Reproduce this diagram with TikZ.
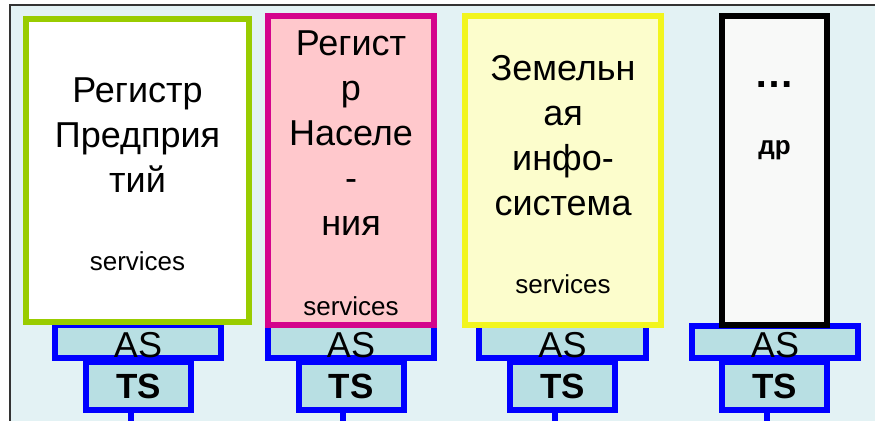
\documentclass[tikz,border=0pt]{standalone}
\usepackage{fontspec}
\setmainfont{Liberation Sans}
\definecolor{bgc}{HTML}{E3F2F4}
\definecolor{grn}{HTML}{99CC00}
\definecolor{mag}{HTML}{D4048C}
\definecolor{pnk}{HTML}{FFC8CC}
\definecolor{ylw}{HTML}{F2F51E}
\definecolor{ylf}{HTML}{FCFDCC}
\definecolor{gry}{HTML}{F8F9F8}
\definecolor{asf}{HTML}{B8DFE3}
\definecolor{blu}{HTML}{0000FF}
\definecolor{frm}{HTML}{333333}
\begin{document}
\begin{tikzpicture}[x=1pt,y=-1pt,
  regbox/.style={draw,line width=6pt,rectangle,inner sep=0pt},
  asbox/.style={regbox,draw=blu,fill=asf,minimum width=166pt,minimum height=33pt},
  tsbox/.style={regbox,draw=blu,fill=asf,minimum width=105pt,minimum height=48pt},
  stem/.style={draw=blu,line width=6pt},
  big/.style={anchor=base,inner sep=0pt,font=\fontsize{36}{45}\selectfont},
  small/.style={anchor=base,inner sep=0pt,font=\fontsize{26}{30}\selectfont},
  astext/.style={anchor=base,inner sep=0pt,font=\fontsize{36}{40}\selectfont},
  tstext/.style={anchor=base,inner sep=0pt,font=\fontsize{35}{40}\selectfont\bfseries}]
\useasboundingbox (0,0) rectangle (875,421);
% background and frame
\fill[bgc] (10,5) rectangle (875,421);
\draw[frm,line width=2pt] (875,5) -- (10,5) -- (10,421);
% AS boxes
\node[asbox] (as1) at (138,341.5) {};
\node[asbox] (as2) at (351,341.5) {};
\node[asbox,minimum width=167pt] (as3) at (562.5,341.5) {};
\node[asbox,minimum height=32pt] (as4) at (775,342) {};
% TS boxes
\node[tsbox] (ts1) at (138.5,386) {};
\node[tsbox] (ts2) at (351,386) {};
\node[tsbox] (ts3) at (562.5,386) {};
\node[tsbox] (ts4) at (774.5,386) {};
% stems
\coordinate (s1) at (131,421);
\coordinate (s2) at (343,421);
\coordinate (s3) at (555,421);
\coordinate (s4) at (767,421);
\draw[stem] (ts1.center |- ts1.south) ++(-7.5,-3) -- (s1);
\draw[stem] (ts2.center |- ts2.south) ++(-8,-3) -- (s2);
\draw[stem] (ts3.center |- ts3.south) ++(-7.5,-3) -- (s3);
\draw[stem] (ts4.center |- ts4.south) ++(-7.5,-3) -- (s4);
% main boxes
\node[regbox,draw=grn,fill=white,minimum width=223pt,minimum height=303pt] (b1) at (137.5,170.5) {};
\node[regbox,draw=mag,fill=pnk,minimum width=166pt,minimum height=309pt] (b2) at (351,170.5) {};
\node[regbox,draw=ylw,fill=ylf,minimum width=196pt,minimum height=309pt] (b3) at (563,170.5) {};
\node[regbox,draw=black,fill=gry,minimum width=105pt,minimum height=309pt] (b4) at (774.5,170.5) {};
% texts box 1
\node[big] (t1a) at (137.5,102) {Регистр};
\node[big] (t1b) at (137.5,147) {Предприя};
\node[big] (t1c) at (137.5,192) {тий};
\node[small] (t1s) at (137.5,270) {services};
% texts box 2
\node[big] (t2a) at (351,55) {Регист};
\node[big] (t2b) at (351,100) {р};
\node[big] (t2c) at (351,145) {Населе};
\node[big] (t2d) at (351,190) {-};
\node[big] (t2e) at (351,235) {ния};
\node[small] (t2s) at (351,315) {services};
% texts box 3
\node[big] (t3a) at (563,80) {Земельн};
\node[big] (t3b) at (563,125) {ая};
\node[big] (t3c) at (563,170) {инфо-};
\node[big] (t3d) at (563,215) {система};
\node[small] (t3s) at (563,293) {services};
% texts box 4
\node[big,font=\fontsize{40}{45}\selectfont\bfseries] (t4a) at (774.5,87) {…};
\node[small,font=\fontsize{26}{30}\selectfont\bfseries] (t4b) at (774.5,154) {др};
% AS / TS labels
\node[astext] (a1) at (as1.center |- 0,357) {AS};
\node[astext] (a2) at (as2.center |- 0,357) {AS};
\node[astext] (a3) at (as3.center |- 0,357) {AS};
\node[astext] (a4) at (as4.center |- 0,357) {AS};
\node[tstext] (l1) at (ts1.center |- 0,398) {TS};
\node[tstext] (l2) at (ts2.center |- 0,398) {TS};
\node[tstext] (l3) at (ts3.center |- 0,398) {TS};
\node[tstext] (l4) at (ts4.center |- 0,398) {TS};
\end{tikzpicture}
\end{document}
